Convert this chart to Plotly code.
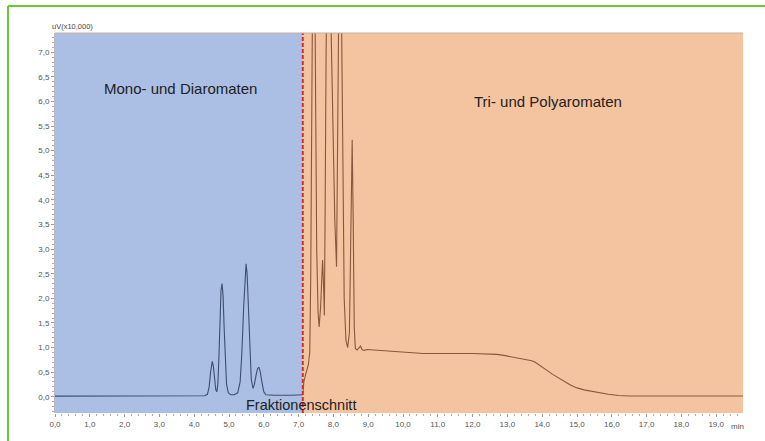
import plotly.graph_objects as go

# ---- data ----
time_min = [0.0, 1.0, 2.0, 3.0, 3.5, 4.0, 4.3, 4.38, 4.43, 4.47, 4.50, 4.52, 4.55, 4.58, 4.62,
            4.65, 4.68, 4.71, 4.74, 4.77, 4.80, 4.83, 4.86, 4.89, 4.93, 4.98, 5.05, 5.15,
            5.25, 5.32, 5.37, 5.42, 5.46, 5.49, 5.52, 5.56, 5.60, 5.64, 5.69, 5.73, 5.78,
            5.82, 5.86, 5.90, 5.95, 6.00, 6.06, 6.30, 6.80, 7.12,
            7.15, 7.20, 7.28, 7.32, 7.35, 7.38, 7.42, 7.46, 7.49, 7.52, 7.56, 7.59, 7.63,
            7.67, 7.69, 7.72, 7.74, 7.76, 7.79, 7.84, 7.90, 7.93, 7.98, 8.04, 8.09, 8.12,
            8.15, 8.19, 8.23, 8.27, 8.31, 8.36, 8.41, 8.46, 8.50, 8.54, 8.57, 8.60, 8.63,
            8.68, 8.74, 8.78, 8.82, 8.88, 8.96, 9.34, 9.91, 10.58, 12.0, 12.5, 12.7, 12.9,
            13.1, 13.3, 13.5, 13.7, 13.8, 13.9, 14.0, 14.1, 14.2, 14.3, 14.4, 14.5, 14.6,
            14.7, 14.8, 14.9, 15.0, 15.2, 15.5, 15.7, 15.9, 16.2, 16.5, 17.5, 19.77]
signal = [0.012, 0.012, 0.012, 0.012, 0.015, 0.02, 0.02, 0.05, 0.2, 0.5, 0.68, 0.72, 0.62, 0.35, 0.14,
          0.10, 0.25, 0.8, 1.6, 2.15, 2.30, 2.05, 1.4, 0.7, 0.25, 0.08, 0.04, 0.04,
          0.08, 0.3, 0.9, 1.8, 2.5, 2.70, 2.5, 1.7, 0.85, 0.35, 0.17, 0.25, 0.45,
          0.57, 0.60, 0.5, 0.28, 0.1, 0.04, 0.03, 0.03, 0.04,
          0.3, 0.45, 0.65, 0.9, 2.5, 6.0, 10.0, 9.0, 6.0, 3.0, 1.7, 1.42, 1.8,
          2.6, 2.78, 2.2, 1.65, 3.5, 7.0, 10.0, 9.0, 7.6, 5.5, 3.6, 2.64, 5.0,
          9.0, 11.0, 8.0, 4.0, 2.0, 1.15, 1.0, 1.3, 3.5, 5.22, 3.5, 1.4, 0.98,
          0.95, 1.0, 1.03, 0.96, 0.94, 0.96, 0.94, 0.91, 0.88, 0.88, 0.875, 0.86, 0.84,
          0.815, 0.79, 0.765, 0.73, 0.70, 0.655, 0.605, 0.555, 0.505, 0.455, 0.41, 0.365, 0.32,
          0.28, 0.245, 0.21, 0.18, 0.14, 0.10, 0.07, 0.05, 0.025, 0.015, 0.015, 0.015]
cut_time = 7.12
region_labels = ["Mono- und Diaromaten", "Tri- und Polyaromaten"]
cut_label = "Fraktionenschnitt"
y_unit = "uV(x10,000)"
x_unit = "min"
x_ticks = [float(v) for v in range(0, 20)]
y_ticks = [0.0, 0.5, 1.0, 1.5, 2.0, 2.5, 3.0, 3.5, 4.0, 4.5, 5.0, 5.5, 6.0, 6.5, 7.0]

X_MAX = 19.77
Y_MIN, Y_MAX = -0.33, 7.39

fig = go.Figure()

# split the single chromatogram at the fraction cut for colouring
n_cut = max(i for i, t in enumerate(time_min) if t <= cut_time) + 1
fig.add_trace(go.Scatter(x=time_min[:n_cut], y=signal[:n_cut], mode="lines",
                         line=dict(color="rgb(62,78,112)", width=1.1),
                         hoverinfo="skip", showlegend=False))
fig.add_trace(go.Scatter(x=time_min[n_cut - 1:], y=signal[n_cut - 1:], mode="lines",
                         line=dict(color="rgb(135,88,60)", width=1.1),
                         hoverinfo="skip", showlegend=False))

shapes = [
    dict(type="rect", xref="x", yref="paper", x0=0, x1=cut_time, y0=0, y1=1,
         fillcolor="rgb(170,191,227)", line=dict(width=0), layer="below"),
    dict(type="rect", xref="x", yref="paper", x0=cut_time, x1=X_MAX, y0=0, y1=1,
         fillcolor="rgb(244,196,160)", line=dict(width=0), layer="below"),
    dict(type="line", xref="x", yref="paper", x0=cut_time, x1=cut_time, y0=0, y1=1,
         line=dict(color="rgb(225,40,40)", width=2, dash="4px,2px")),
    # top border line of plot area
    dict(type="line", xref="paper", yref="paper", x0=0, x1=1, y0=1, y1=1,
         line=dict(color="rgb(200,175,165)", width=1)),
    # green frame (top and left)
    dict(type="line", xref="paper", yref="paper", x0=-0.0683, x1=1.05, y0=1.071, y1=1.071,
         line=dict(color="rgb(110,200,50)", width=2)),
    dict(type="line", xref="paper", yref="paper", x0=-0.0683, x1=-0.0683, y0=1.071, y1=-0.08,
         line=dict(color="rgb(110,200,50)", width=2)),
]

annotations = [
    dict(x=3.61, y=6.27, xref="x", yref="y", text=region_labels[0], showarrow=False,
         font=dict(family="Liberation Sans, Arial", size=15, color="#222")),
    dict(x=14.17, y=5.99, xref="x", yref="y", text=region_labels[1], showarrow=False,
         font=dict(family="Liberation Sans, Arial", size=15, color="#222")),
    dict(x=7.07, y=-0.17, xref="x", yref="y", text=cut_label, showarrow=False,
         font=dict(family="Liberation Sans, Arial", size=14.5, color="#222")),
    dict(x=-0.007, y=1.0, xref="paper", yref="paper", text=y_unit, showarrow=False,
         xanchor="left", yanchor="bottom", yshift=0,
         font=dict(family="Liberation Sans, Arial", size=7.5, color="#444")),
    dict(x=19.6, y=0, xref="x", yref="paper", text=x_unit, showarrow=False,
         xanchor="center", yanchor="top", yshift=-7,
         font=dict(family="Liberation Sans, Arial", size=8, color="#555")),
]

fig.update_layout(
    width=765, height=441,
    margin=dict(l=55, r=22, t=33, b=28),
    paper_bgcolor="white", plot_bgcolor="white",
    separators=",.",
    shapes=shapes, annotations=annotations,
    xaxis=dict(range=[0, X_MAX], tickvals=x_ticks, tickformat=".1f", showgrid=False,
               zeroline=False, ticks="outside", ticklen=3, tickcolor="#999",
               showline=False, tickfont=dict(family="Liberation Sans, Arial", size=8, color="#555"),
               minor=dict(dtick=0.2, ticks="outside", ticklen=2, tickcolor="#aaa")),
    yaxis=dict(range=[Y_MIN, Y_MAX], tickvals=y_ticks, tickformat=".1f", showgrid=False,
               zeroline=False, ticks="outside", ticklen=3, tickcolor="#999",
               showline=True, linecolor="#bbb", linewidth=1,
               tickfont=dict(family="Liberation Sans, Arial", size=8, color="#555"),
               minor=dict(dtick=0.1, ticks="outside", ticklen=2, tickcolor="#aaa")),
)

fig.write_html("out.html")
